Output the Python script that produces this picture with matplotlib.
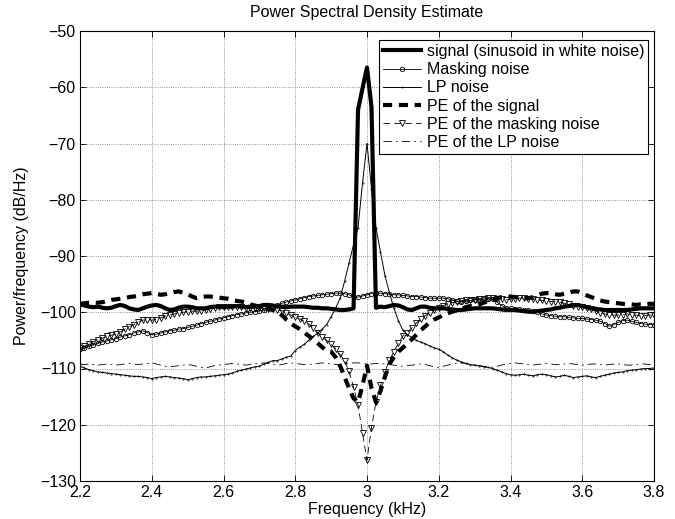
import matplotlib.pyplot as plt
import numpy as np

plt.rcParams['font.family'] = ['Liberation Sans', 'DejaVu Sans']
plt.rcParams['font.size'] = 11.5

# frequency axis (kHz), 129 bins from 2.2 to 3.8
freq = np.linspace(2.2, 3.8, 129)

# signal (sinusoid in white noise), dB/Hz
signal = [
    -98.6, -98.8, -99.0, -99.1, -99.0, -99.2, -99.3, -99.2,
    -98.9, -98.7, -98.9, -99.3, -99.5, -99.6, -99.3, -99.0,
    -98.8, -98.7, -98.9, -99.3, -99.6, -99.5, -99.2, -99.0,
    -99.0, -99.1, -99.3, -99.3, -99.3, -99.1, -99.0, -99.0,
    -99.1, -99.0, -99.0, -98.9, -99.0, -99.1, -99.0, -99.0,
    -98.9, -98.7, -98.7, -98.8, -99.0, -99.0, -99.1, -99.0,
    -99.0, -99.0, -99.0, -99.1, -99.2, -99.2, -99.3, -99.3,
    -99.4, -99.5, -99.6, -99.6, -99.5, -99.3, -64.0, -60.2,
    -56.5, -63.5, -99.2, -99.0, -99.1, -98.9, -98.7, -98.8,
    -99.1, -99.5, -99.6, -99.3, -99.0, -99.0, -99.2, -99.3,
    -99.3, -99.3, -99.4, -99.5, -99.6, -99.6, -99.5, -99.4,
    -99.3, -99.3, -99.3, -99.3, -99.3, -99.4, -99.5, -99.6,
    -99.6, -99.6, -99.7, -99.8, -99.9, -99.9, -99.8, -99.7,
    -99.6, -99.5, -99.3, -99.2, -99.0, -98.9, -98.8, -98.7,
    -98.9, -99.1, -99.3, -99.4, -99.5, -99.6, -99.6, -99.6,
    -99.6, -99.6, -99.6, -99.5, -99.4, -99.3, -99.3, -99.3,
    -99.3,
]

# masking noise
masking = [
    -106.6, -106.3, -106.0, -105.8, -105.5, -105.3, -105.1, -104.9,
    -104.7, -104.4, -104.2, -104.0, -103.7, -103.5, -103.3, -103.6,
    -104.0, -103.9, -103.7, -103.5, -103.3, -103.2, -103.0, -102.9,
    -102.7, -102.5, -102.3, -102.0, -101.8, -101.6, -101.4, -101.2,
    -101.0, -100.8, -100.6, -100.4, -100.3, -100.1, -100.0, -99.9,
    -99.8, -99.6, -99.3, -99.0, -98.7, -98.4, -98.2, -98.0,
    -97.8, -97.6, -97.4, -97.2, -97.1, -97.0, -96.9, -96.8,
    -96.7, -96.6, -96.6, -96.7, -96.9, -97.2, -97.3, -97.1,
    -96.9, -96.7, -96.6, -96.6, -96.7, -96.8, -96.9, -96.9,
    -97.0, -97.1, -97.2, -97.2, -97.3, -97.4, -97.5, -97.5,
    -97.5, -97.5, -97.6, -97.8, -98.0, -98.1, -98.0, -97.9,
    -97.8, -97.8, -97.7, -97.6, -97.7, -98.2, -98.8, -99.2,
    -99.3, -99.4, -99.5, -99.6, -99.6, -99.8, -100.0, -100.3,
    -100.5, -100.6, -100.7, -100.8, -100.8, -100.9, -101.0, -101.1,
    -101.1, -101.2, -101.3, -101.4, -101.6, -102.0, -102.5, -102.2,
    -101.8, -101.5, -101.4, -101.6, -101.8, -102.0, -102.1, -102.2,
    -102.2,
]

# LP noise
lp_noise = [
    -109.6, -109.9, -110.2, -110.4, -110.6, -110.7, -110.8, -110.9,
    -111.0, -111.1, -111.2, -111.3, -111.4, -111.4, -111.5, -111.6,
    -111.8, -111.6, -111.5, -111.4, -111.5, -111.6, -111.7, -111.8,
    -112.0, -111.8, -111.6, -111.5, -111.5, -111.4, -111.3, -111.2,
    -111.1, -111.0, -110.8, -110.5, -110.3, -110.1, -109.9, -109.7,
    -109.6, -109.2, -108.9, -108.6, -108.6, -108.3, -108.0, -107.8,
    -106.8, -106.2, -105.7, -105.0, -104.3, -103.7, -103.0, -102.2,
    -100.8, -99.3, -97.5, -94.5, -91.2, -88.0, -85.0, -77.0,
    -70.0, -78.0, -85.0, -89.2, -93.5, -96.5, -99.3, -101.5,
    -103.2, -104.0, -104.5, -105.0, -105.3, -105.6, -106.0, -106.3,
    -106.6, -107.0, -107.6, -108.1, -108.5, -108.8, -109.1, -109.3,
    -109.4, -109.5, -109.7, -109.8, -110.0, -110.3, -110.6, -110.9,
    -111.1, -111.2, -111.1, -111.0, -111.2, -111.3, -111.1, -111.0,
    -111.1, -111.3, -111.5, -111.4, -111.2, -111.4, -111.6, -111.5,
    -111.4, -111.3, -111.5, -111.6, -111.4, -111.2, -111.0, -110.8,
    -110.7, -110.6, -110.4, -110.3, -110.2, -110.1, -110.0, -110.0,
    -109.9,
]

# PE of the signal
pe_signal = [
    -98.5, -98.4, -98.3, -98.3, -98.3, -98.2, -98.0, -97.8,
    -97.7, -97.6, -97.5, -97.3, -97.2, -97.0, -96.8, -96.7,
    -96.6, -96.7, -96.9, -96.8, -96.6, -96.4, -96.3, -96.5,
    -96.8, -97.2, -97.5, -97.3, -97.2, -97.2, -97.3, -97.4,
    -97.5, -97.6, -97.8, -98.0, -98.1, -98.3, -98.6, -98.8,
    -99.0, -99.2, -99.4, -99.6, -99.9, -100.5, -101.3, -102.0,
    -102.5, -103.0, -103.6, -104.2, -104.8, -105.5, -106.2, -106.9,
    -107.0, -108.0, -109.5, -111.5, -113.5, -115.3, -116.0, -113.0,
    -109.5, -113.5, -116.0, -114.0, -111.5, -109.2, -108.0, -107.0,
    -106.3, -105.6, -104.8, -104.0, -103.2, -102.5, -101.8, -101.3,
    -100.9, -100.5, -100.2, -99.9, -99.7, -99.4, -99.1, -98.9,
    -98.9, -98.6, -98.3, -98.0, -97.7, -97.5, -97.3, -97.2,
    -97.2, -97.3, -97.4, -97.5, -97.5, -97.3, -97.0, -96.7,
    -96.6, -96.6, -96.8, -96.9, -96.7, -96.5, -96.3, -96.3,
    -96.6, -97.0, -97.3, -97.6, -97.9, -98.1, -98.2, -98.3,
    -98.4, -98.5, -98.6, -98.6, -98.7, -98.6, -98.6, -98.5,
    -98.5,
]

# PE of the masking noise
pe_masking = [
    -106.4, -106.0, -105.6, -105.2, -104.9, -104.6, -104.3, -104.1,
    -103.9, -103.5, -103.0, -102.6, -102.2, -101.7, -101.4, -101.3,
    -101.4, -101.3, -101.0, -100.7, -100.5, -100.3, -100.1, -100.0,
    -99.9, -99.8, -99.8, -99.7, -99.6, -99.4, -99.2, -99.1,
    -99.0, -99.0, -99.0, -99.1, -99.1, -99.2, -99.3, -99.3,
    -99.3, -99.3, -99.4, -99.5, -99.6, -99.7, -100.1, -100.5,
    -100.9, -101.2, -101.6, -102.1, -102.8, -103.6, -104.4, -105.0,
    -105.7, -106.5, -107.5, -108.6, -110.5, -113.3, -116.5, -121.5,
    -126.3, -120.5, -116.0, -113.0, -110.6, -108.5, -107.0, -105.5,
    -104.2, -103.6, -102.8, -101.9, -101.2, -100.6, -100.1, -99.6,
    -99.2, -98.8, -98.5, -98.3, -98.1, -98.0, -97.9, -97.8,
    -97.8, -97.7, -97.6, -97.5, -97.5, -97.6, -97.7, -97.8,
    -97.7, -97.6, -97.5, -97.5, -97.6, -97.7, -97.8, -97.9,
    -98.0, -98.1, -98.1, -98.2, -98.4, -98.6, -98.8, -99.0,
    -99.1, -99.3, -99.5, -99.8, -100.1, -100.3, -100.5, -100.5,
    -100.5, -100.4, -100.3, -100.4, -100.5, -100.6, -100.6, -100.5,
    -100.5,
]

# PE of the LP noise
pe_lp = [
    -109.2, -109.3, -109.2, -109.3, -109.4, -109.3, -109.2, -109.3,
    -109.4, -109.3, -109.2, -109.1, -109.2, -109.3, -109.2, -109.1,
    -109.0, -109.2, -109.4, -109.6, -109.7, -109.6, -109.5, -109.4,
    -109.3, -109.4, -109.6, -109.8, -109.9, -109.7, -109.5, -109.4,
    -109.3, -109.2, -109.1, -109.2, -109.3, -109.4, -109.3, -109.2,
    -109.1, -109.0, -109.1, -109.3, -109.4, -109.3, -109.1, -109.0,
    -109.1, -109.2, -109.3, -109.3, -109.2, -109.1, -109.0, -109.1,
    -109.2, -109.3, -109.3, -109.2, -109.1, -109.0, -109.0, -109.1,
    -109.2, -109.2, -109.1, -109.1, -109.2, -109.3, -109.4, -109.5,
    -109.6, -109.5, -109.4, -109.3, -109.2, -109.3, -109.5, -109.7,
    -109.8, -109.6, -109.4, -109.2, -109.1, -109.0, -109.1, -109.3,
    -109.4, -109.5, -109.6, -109.7, -109.8, -109.6, -109.4, -109.2,
    -109.1, -109.0, -109.1, -109.2, -109.3, -109.4, -109.3, -109.2,
    -109.1, -109.2, -109.3, -109.3, -109.2, -109.1, -109.2, -109.3,
    -109.4, -109.3, -109.2, -109.2, -109.3, -109.4, -109.3, -109.2,
    -109.2, -109.3, -109.4, -109.4, -109.3, -109.2, -109.2, -109.3,
    -109.3,
]

xticks = [2.2, 2.4, 2.6, 2.8, 3.0, 3.2, 3.4, 3.6, 3.8]
xticklabels = ['2.2', '2.4', '2.6', '2.8', '3', '3.2', '3.4', '3.6', '3.8']
yticks = [-50, -60, -70, -80, -90, -100, -110, -120, -130]

fig = plt.figure(figsize=(6.75, 5.19), dpi=100)
ax = fig.add_axes([80 / 675, 1 - 481 / 519, 574 / 675, 450 / 519])

ax.plot(freq, signal, color='k', lw=3, label='signal (sinusoid in white noise)')
ax.plot(freq, masking, color='k', lw=0.6, marker='o', ms=3.2, mfc='none',
        mew=0.6, label='Masking noise')
ax.plot(freq, lp_noise, color='k', lw=0.7, marker='.', ms=0.8,
        label='LP noise')
ax.plot(freq, pe_signal, color='k', lw=3, dashes=(2.2, 1.6),
        label='PE of the signal')
ax.plot(freq, pe_masking, color='k', lw=0.6, dashes=(8, 5), marker='v',
        ms=4, mfc='none', mew=0.6, label='PE of the masking noise')
ax.plot(freq, pe_lp, color='k', lw=0.6, dashes=(10, 5, 2, 5),
        label='PE of the LP noise')

ax.set_xlim(2.2, 3.8)
ax.set_ylim(-130, -50)
ax.set_xticks(xticks)
ax.set_xticklabels(xticklabels)
ax.set_yticks(yticks)
ax.tick_params(direction='in', top=True, right=True, length=4, width=0.6,
               labelsize=11.5, pad=3)
ax.grid(True, color='0.45', ls=':', lw=0.6)
for s in ax.spines.values():
    s.set_linewidth(0.8)

ax.set_title('Power Spectral Density Estimate', fontsize=11.5, pad=10)
ax.set_xlabel('Frequency (kHz)', fontsize=11.5, labelpad=1)
ax.set_ylabel('Power/frequency (dB/Hz)', fontsize=11.5, labelpad=8)

leg = ax.legend(loc='upper right', bbox_to_anchor=(0.99, 0.98),
                borderaxespad=0, fancybox=False, framealpha=1,
                edgecolor='k', handlelength=2.4, handletextpad=0.35,
                labelspacing=0.2, borderpad=0.25, fontsize=11.5)
leg.get_frame().set_linewidth(0.8)

fig.savefig('out.png', dpi=100)
